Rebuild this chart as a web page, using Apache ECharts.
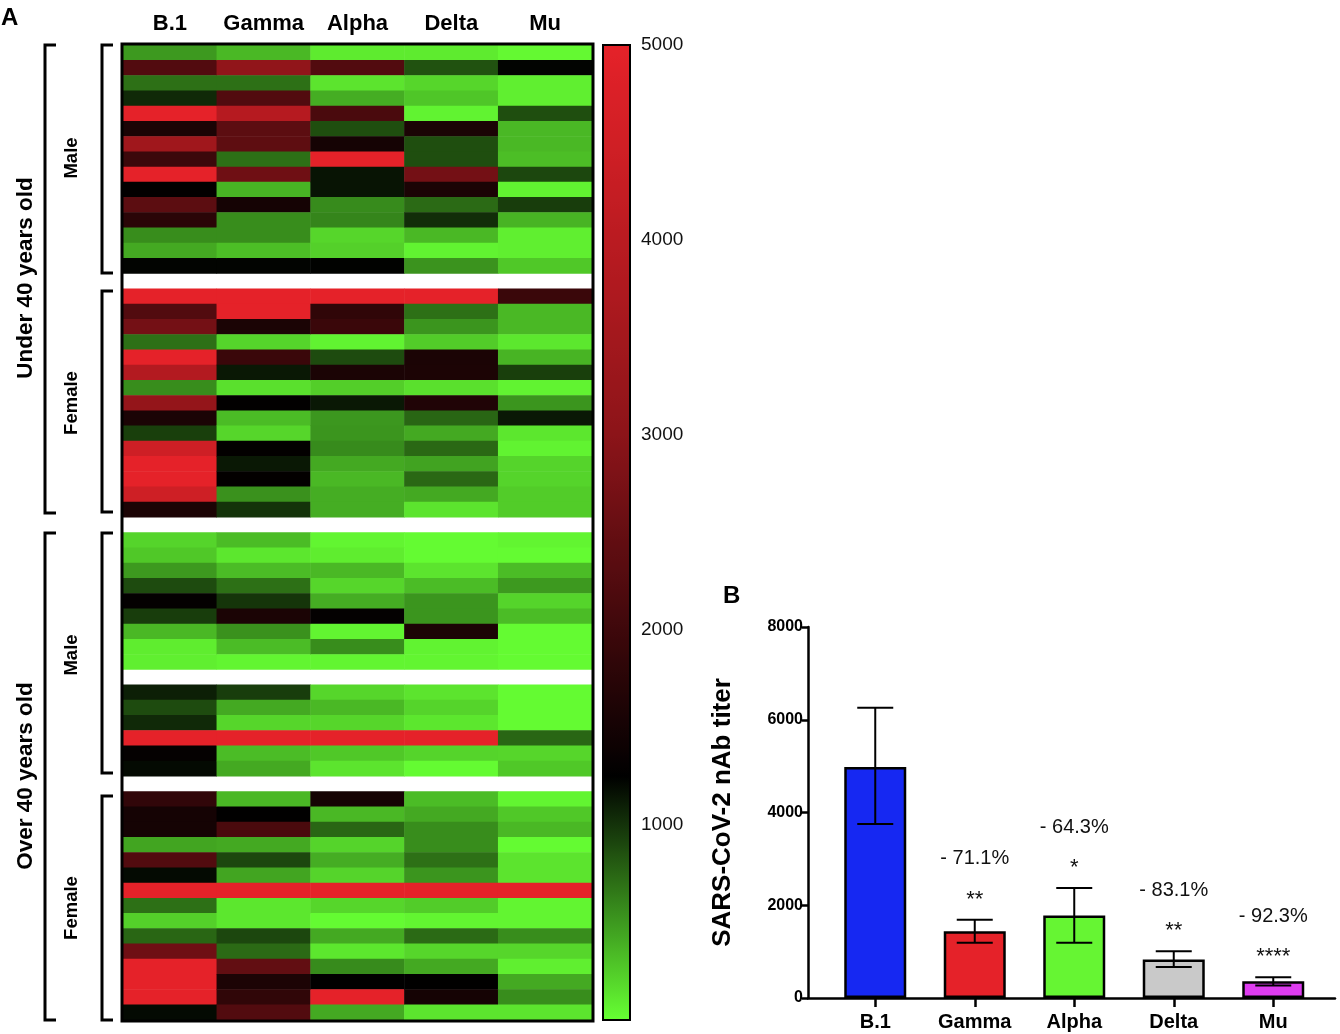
<!DOCTYPE html>
<html lang="en">
<head>
<meta charset="UTF-8" />
<title>nAb titers by variant</title>
<script src="https://cdn.jsdelivr.net/npm/echarts@6/dist/echarts.min.js"></script>
<style>
    body { margin: 0; background: #fff; }
    #chart { width: 1340px; height: 1034px; }
</style>
</head>
<body>
<div id="chart"></div>
<script>
    // variants (heatmap columns and bar categories)
    const variants = ['B.1', 'Gamma', 'Alpha', 'Delta', 'Mu'];

    // heatmap values per variant, one entry per row top to bottom; null = spacer row
    const b1Vals = [500, 2250, 700, 1050, 5000, 1570, 3430, 1975, 5000, 1280, 2380, 1760, 560, 420, 1230, null,
        5000, 2250, 2690, 700, 5000, 3850, 560, 3170, 1570, 940, 4450, 5000, 5000, 4450, 1590, null,
        210, 270, 500, 880, 1300, 950, 350, 90, 80, null,
        1100, 880, 1050, 5000, 1310, 1200, null,
        1850, 1500, 1500, 440, 2250, 1200, 5000, 700, 230, 750, 2620, 5000, 5000, 5000, 1200];
    const gammaVals = [350, 3100, 700, 2250, 3900, 2380, 2410, 700, 2620, 370, 1500, 560, 560, 320, 1230, null,
        5000, 5000, 1570, 210, 1950, 1130, 150, 1270, 330, 200, 1280, 1130, 1280, 540, 1000, null,
        330, 120, 330, 700, 990, 1570, 540, 330, 50, null,
        950, 420, 200, 5000, 330, 420, null,
        350, 1260, 2150, 420, 900, 440, 5000, 120, 120, 900, 730, 2460, 1590, 1830, 2250];
    const alphaVals = [100, 2250, 130, 400, 2150, 870, 1500, 5000, 1150, 1150, 570, 600, 200, 230, 1240, null,
        5000, 1830, 1950, 60, 880, 1570, 240, 1130, 510, 520, 570, 420, 350, 400, 400, null,
        50, 90, 350, 200, 400, 1300, 50, 560, 50, null,
        200, 350, 200, 5000, 270, 130, null,
        1500, 350, 750, 210, 400, 210, 5000, 200, 20, 420, 120, 570, 1260, 5000, 420];
    const deltaVals = [100, 850, 200, 280, 60, 1570, 870, 870, 2690, 1570, 730, 1030, 350, 60, 530, null,
        5000, 700, 520, 250, 1570, 1590, 150, 1640, 750, 420, 740, 450, 740, 420, 130, null,
        20, 20, 130, 330, 520, 520, 1590, 60, 50, null,
        130, 210, 120, 5000, 210, 20, null,
        330, 420, 560, 560, 700, 520, 5000, 250, 50, 730, 200, 420, 1260, 1500, 130];
    const muVals = [30, 1230, 80, 80, 870, 350, 350, 320, 900, 60, 950, 370, 80, 80, 270, null,
        1950, 350, 350, 120, 370, 940, 60, 520, 1130, 120, 60, 210, 210, 250, 250, null,
        50, 20, 330, 500, 210, 330, 20, 20, 20, null,
        20, 20, 20, 750, 200, 270, null,
        50, 270, 350, 20, 130, 130, 5000, 50, 50, 560, 200, 80, 420, 560, 130];

    // colour scale ticks
    const scaleTicks = [0, 1000, 2000, 3000, 4000, 5000];

    // panel B: mean titer with error range
    const titerMean = [4980, 1440, 1780, 830, 360];
    const titerLow = [3750, 1190, 1190, 670, 270];
    const titerHigh = [6260, 1690, 2370, 1010, 450];
    const dropLabels = ['', '- 71.1%', '- 64.3%', '- 83.1%', '- 92.3%'];
    const sigLabels = ['', '**', '*', '**', '****'];
    const barColors = ['#1628f2', '#e52229', '#66f533', '#c9c9c9', '#de3cf0'];

    const columns = [b1Vals, gammaVals, alphaVals, deltaVals, muVals];
    const rowIds = b1Vals.map((_, i) => 'r' + i);
    const heatData = [];
    columns.forEach((col, x) => {
        col.forEach((v, y) => {
            if (v != null) heatData.push([x, y, v]);
        });
    });

    // green -> black -> red, stops every 250
    const anchors = [[0, [102, 255, 51]], [1250, [0, 0, 0]], [2000, [62, 8, 11]],
        [3000, [140, 20, 25]], [4000, [186, 27, 33]], [5000, [229, 34, 41]]];
    const rampColors = [];
    for (let v = 0; v <= 5000; v += 250) {
        let k = 0;
        while (k < anchors.length - 2 && v > anchors[k + 1][0]) k++;
        const [v0, c0] = anchors[k], [v1, c1] = anchors[k + 1];
        const t = (v - v0) / (v1 - v0);
        const c = c0.map((a, j) => Math.round(a + (c1[j] - a) * t));
        rampColors.push('rgb(' + c.join(',') + ')');
    }

    const font = '"Liberation Sans", Arial, sans-serif';

    function bracket(x, y0, y1, len) {
        return {
            type: 'polyline',
            shape: { points: [[x + len, y0], [x, y0], [x, y1], [x + len, y1]] },
            style: { stroke: '#000', lineWidth: 3, fill: null },
            z: 50
        };
    }
    function vText(text, x, y, size) {
        return {
            type: 'text', x: x, y: y, rotation: Math.PI / 2,
            style: { text: text, font: 'bold ' + size + 'px ' + font, fill: '#000', align: 'center', verticalAlign: 'middle' },
            z: 50
        };
    }

    const chart = echarts.init(document.getElementById('chart'));

    const option = {
        animation: false,
        textStyle: { fontFamily: font },
        grid: [
            { left: 123, top: 45, width: 469, height: 975 },
            { left: 603, top: 45, width: 27, height: 975 },
            { left: 808, top: 627, width: 527, height: 371 },
            { left: 825.5, top: 627, width: 497.5, height: 371 }
        ],
        xAxis: [
            {
                gridIndex: 0, type: 'category', data: variants, position: 'top',
                axisLine: { show: false }, axisTick: { show: false },
                axisLabel: { interval: 0, fontSize: 22, fontWeight: 'bold', color: '#000', margin: 10 }
            },
            { gridIndex: 1, type: 'value', show: false },
            {
                gridIndex: 2, type: 'value', min: 0, max: 1,
                axisLine: { show: true, lineStyle: { color: '#000', width: 2.5 } },
                axisTick: { show: false }, axisLabel: { show: false }, splitLine: { show: false }
            },
            {
                gridIndex: 3, type: 'category', data: variants,
                axisLine: { show: false },
                axisTick: { show: true, alignWithLabel: true, length: 9, lineStyle: { color: '#000', width: 2.5 } },
                axisLabel: { interval: 0, fontSize: 20, fontWeight: 'bold', color: '#000', margin: 14 }
            }
        ],
        yAxis: [
            {
                gridIndex: 0, type: 'category', data: rowIds, inverse: true, show: false
            },
            {
                gridIndex: 1, type: 'value', position: 'right', min: scaleTicks[0],
                max: scaleTicks[scaleTicks.length - 1], interval: 1000,
                axisLine: { show: false }, splitLine: { show: false },
                axisTick: { show: true, length: 6, lineStyle: { color: '#000', width: 2 } },
                axisLabel: {
                    fontSize: 19, color: '#111', margin: 11,
                    formatter: v => (v === 0 ? '' : String(v))
                }
            },
            {
                gridIndex: 2, type: 'value', min: 0, max: 8000, interval: 2000,
                name: 'SARS-CoV-2 nAb titer', nameLocation: 'middle', nameGap: 72, nameRotate: 90,
                nameTextStyle: { fontSize: 26, fontWeight: 'bold', color: '#000' },
                axisLine: { show: true, lineStyle: { color: '#000', width: 2.5 } },
                axisTick: { show: true, length: 6, lineStyle: { color: '#000', width: 2.5 } },
                axisLabel: { fontSize: 16, fontWeight: 'bold', color: '#000', margin: 5, formatter: v => String(v) },
                splitLine: { show: false }
            },
            { gridIndex: 3, type: 'value', min: 0, max: 8000, show: false }
        ],
        visualMap: {
            type: 'continuous', seriesIndex: 0, min: 0, max: 5000,
            calculable: false, orient: 'vertical',
            left: 603, top: 45, itemWidth: 27, itemHeight: 975, padding: 0,
            text: ['', ''], showLabel: false,
            inRange: { color: rampColors }
        },
        series: [
            {
                type: 'heatmap', xAxisIndex: 0, yAxisIndex: 0, data: heatData,
                itemStyle: { borderWidth: 0 },
                emphasis: { disabled: true }
            },
            {
                type: 'bar', xAxisIndex: 3, yAxisIndex: 3, barWidth: 62,
                data: titerMean.map((v, i) => ({ value: v, itemStyle: { color: barColors[i] } })),
                itemStyle: { borderColor: '#000', borderWidth: 2.5 },
                z: 3
            },
            {
                type: 'custom', xAxisIndex: 3, yAxisIndex: 3, z: 5,
                data: variants.map((v, i) => [i, titerLow[i], titerHigh[i]]),
                encode: { x: 0, y: [1, 2] },
                renderItem: function (params, api) {
                    const i = api.value(0);
                    const lo = api.coord([i, api.value(1)]);
                    const hi = api.coord([i, api.value(2)]);
                    const cap = 18;
                    const ls = { stroke: '#000', lineWidth: 2 };
                    const kids = [
                        { type: 'line', shape: { x1: hi[0], y1: hi[1], x2: lo[0], y2: lo[1] }, style: ls },
                        { type: 'line', shape: { x1: hi[0] - cap, y1: hi[1], x2: hi[0] + cap, y2: hi[1] }, style: ls },
                        { type: 'line', shape: { x1: lo[0] - cap, y1: lo[1], x2: lo[0] + cap, y2: lo[1] }, style: ls }
                    ];
                    const d = params.dataIndex;
                    if (dropLabels[d]) {
                        kids.push({
                            type: 'text', x: hi[0], y: hi[1] - 61,
                            style: { text: dropLabels[d], font: '20px ' + font, fill: '#111', align: 'center', verticalAlign: 'middle' }
                        });
                        kids.push({
                            type: 'text', x: hi[0], y: hi[1] - 20,
                            style: { text: sigLabels[d], font: '22px ' + font, fill: '#111', align: 'center', verticalAlign: 'middle' }
                        });
                    }
                    return { type: 'group', children: kids };
                }
            }
        ],
        graphic: [
            { type: 'text', x: 1, y: 6, style: { text: 'A', font: 'bold 24px ' + font, fill: '#000' } },
            { type: 'text', x: 723, y: 584, style: { text: 'B', font: 'bold 24px ' + font, fill: '#000' } },
            {
                type: 'rect', shape: { x: 122, y: 44, width: 471, height: 977 },
                style: { stroke: '#000', lineWidth: 3, fill: null }, z: 100
            },
            {
                type: 'rect', shape: { x: 603, y: 45, width: 27, height: 975 },
                style: { stroke: '#000', lineWidth: 2, fill: null }, z: 100
            },
            bracket(45, 45, 513, 11),
            bracket(45, 533, 1020, 11),
            bracket(102, 45, 273, 11),
            bracket(102, 291, 512, 11),
            bracket(102, 533, 773, 11),
            bracket(102, 796, 1020, 11),
            vText('Under 40 years old', 26, 278, 22.5),
            vText('Over 40 years old', 26, 776, 22.5),
            vText('Male', 72, 158, 18.5),
            vText('Female', 72, 403, 18.5),
            vText('Male', 72, 655, 18.5),
            vText('Female', 72, 908, 18.5)
        ]
    };

    chart.setOption(option);
</script>
</body>
</html>
